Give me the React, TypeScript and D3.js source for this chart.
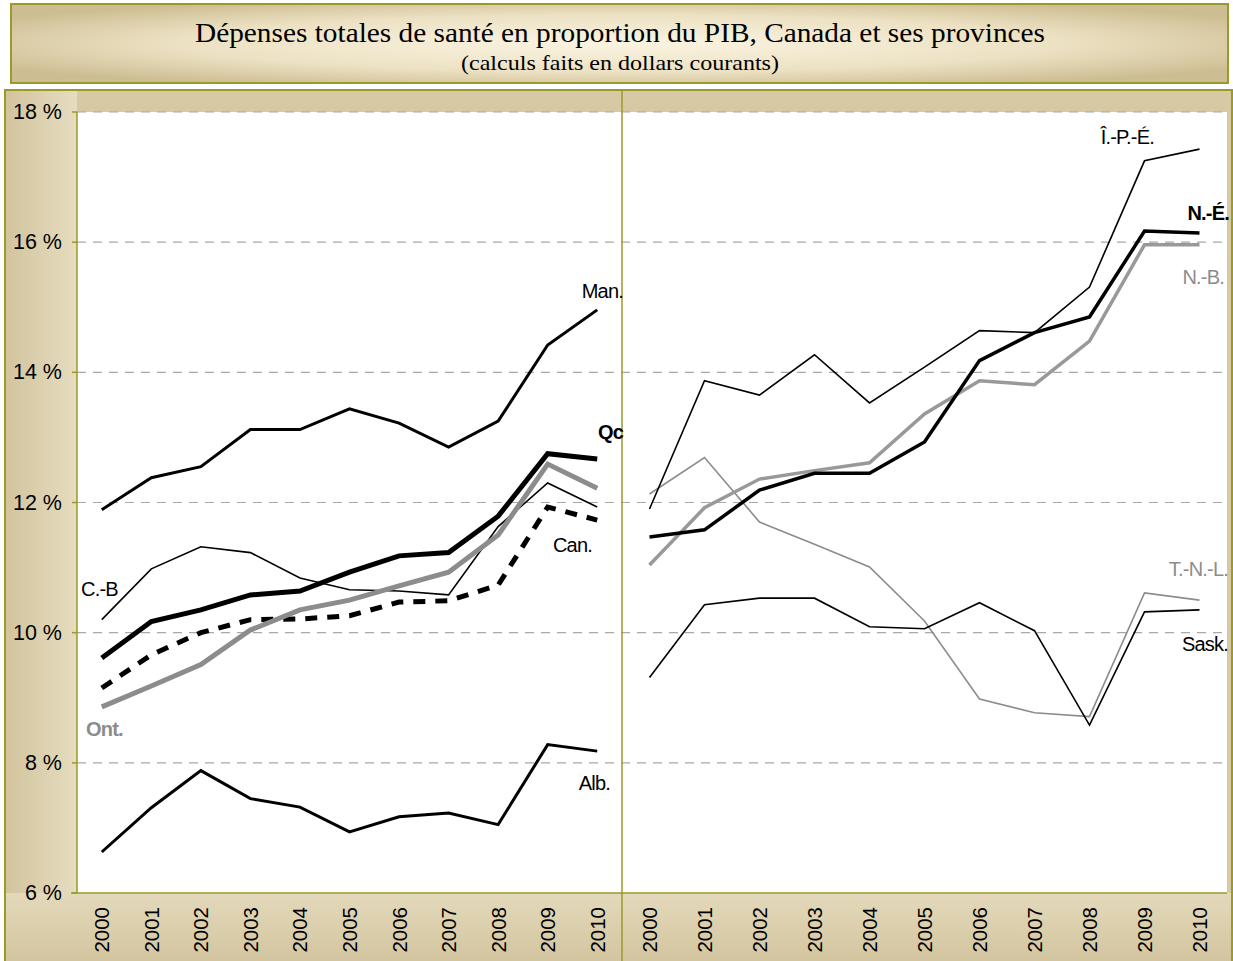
import * as d3 from "d3";

const years = ["2000", "2001", "2002", "2003", "2004", "2005", "2006", "2007", "2008", "2009", "2010"];
const yTicks = [6, 8, 10, 12, 14, 16, 18];

// Panneau gauche
const man = [11.89, 12.38, 12.55, 13.12, 13.12, 13.44, 13.22, 12.85, 13.25, 14.42, 14.96];
const qc = [9.61, 10.17, 10.35, 10.58, 10.64, 10.93, 11.18, 11.23, 11.79, 12.75, 12.67];
const ont = [8.86, 9.18, 9.51, 10.04, 10.35, 10.5, 10.72, 10.93, 11.5, 12.59, 12.22];
const can = [9.15, 9.66, 10.0, 10.2, 10.21, 10.26, 10.47, 10.49, 10.73, 11.93, 11.73];
const cb = [10.2, 10.98, 11.32, 11.23, 10.84, 10.66, 10.64, 10.58, 11.63, 12.3, 11.93];
const alb = [6.63, 7.31, 7.88, 7.45, 7.32, 6.94, 7.17, 7.23, 7.05, 8.28, 8.18];

// Panneau droit
const ipe = [11.9, 13.87, 13.65, 14.27, 13.53, 14.08, 14.64, 14.61, 15.31, 17.25, 17.43];
const ne = [11.47, 11.58, 12.19, 12.45, 12.45, 12.93, 14.18, 14.61, 14.85, 16.17, 16.14];
const nb = [11.04, 11.92, 12.36, 12.49, 12.61, 13.36, 13.87, 13.81, 14.48, 15.96, 15.96];
const tnl = [12.13, 12.69, 11.7, 11.36, 11.01, 10.18, 8.98, 8.77, 8.71, 10.61, 10.5];
const sask = [9.31, 10.43, 10.53, 10.53, 10.09, 10.06, 10.46, 10.03, 8.58, 10.32, 10.35];

const OLIVE = "#9a9a2a";
const SANS = "Arial, 'Liberation Sans', sans-serif";
const SERIF = "'Times New Roman', 'Liberation Serif', serif";

const plotTop = 112;
const plotBottom = 893;
const leftX0 = 77;
const midX = 622;
const rightX1 = 1227;

const y = d3.scaleLinear().domain([6, 18]).range([plotBottom, plotTop]);
const xLeft = d3.scaleBand().domain(years).range([leftX0, midX]);
const xRight = d3.scaleBand().domain(years).range([midX, rightX1]);

type S = { values: number[]; color: string; width: number; dash?: string };

const leftSeries: S[] = [
  { values: cb, color: "#000", width: 1.6 },
  { values: alb, color: "#000", width: 3 },
  { values: man, color: "#000", width: 3 },
  { values: can, color: "#000", width: 5, dash: "12,10" },
  { values: ont, color: "#8c8c8c", width: 5 },
  { values: qc, color: "#000", width: 5 },
];

const rightSeries: S[] = [
  { values: tnl, color: "#8c8c8c", width: 1.6 },
  { values: sask, color: "#000", width: 1.6 },
  { values: ipe, color: "#000", width: 1.6 },
  { values: nb, color: "#999999", width: 3.5 },
  { values: ne, color: "#000", width: 3.5 },
];

function path(x: d3.ScaleBand<string>, vals: number[]) {
  const line = d3
    .line<number>()
    .x((_, i) => (x(years[i]) as number) + x.bandwidth() / 2)
    .y((d) => y(d));
  return line(vals) || "";
}

const labels = [
  { t: "Man.", x: 623, y: 298, anchor: "end", color: "#000", bold: false },
  { t: "Qc", x: 623, y: 439, anchor: "end", color: "#000", bold: true },
  { t: "Can.", x: 592, y: 552, anchor: "end", color: "#000", bold: false },
  { t: "C.-B", x: 81, y: 596, anchor: "start", color: "#000", bold: false },
  { t: "Ont.", x: 86, y: 736, anchor: "start", color: "#8c8c8c", bold: true },
  { t: "Alb.", x: 610, y: 790, anchor: "end", color: "#000", bold: false },
  { t: "Î.-P.-É.", x: 1154, y: 144, anchor: "end", color: "#000", bold: false },
  { t: "N.-É.", x: 1229, y: 220, anchor: "end", color: "#000", bold: true },
  { t: "N.-B.", x: 1224, y: 284, anchor: "end", color: "#8c8c8c", bold: false },
  { t: "T.-N.-L.", x: 1228, y: 576, anchor: "end", color: "#8c8c8c", bold: false },
  { t: "Sask.", x: 1228, y: 651, anchor: "end", color: "#000", bold: false },
];

export default function App() {
  return (
    <svg width={1233} height={961} style={{ position: "absolute", left: 0, top: 0 }}>
      <defs>
        <radialGradient id="titleBg" cx="50%" cy="50%" r="60%">
          <stop offset="0%" stopColor="#fbf4e2" />
          <stop offset="60%" stopColor="#ece1c3" />
          <stop offset="100%" stopColor="#cdbd92" />
        </radialGradient>
        <linearGradient id="frameSide" x1="0" x2="1" y1="0" y2="0">
          <stop offset="0%" stopColor="#d2c49d" />
          <stop offset="100%" stopColor="#e6ddc0" />
        </linearGradient>
        <linearGradient id="frameBottom" x1="0" x2="0" y1="0" y2="1">
          <stop offset="0%" stopColor="#e3d9bb" />
          <stop offset="100%" stopColor="#d3c59f" />
        </linearGradient>
      </defs>

      {/* titre */}
      <rect x={11} y={4} width={1217} height={79} fill="url(#titleBg)" stroke={OLIVE} strokeWidth={2} />
      <text x={620} y={42} textAnchor="middle" fontFamily={SERIF} fontSize={28} textLength={850} lengthAdjust="spacingAndGlyphs">
        Dépenses totales de santé en proportion du PIB, Canada et ses provinces
      </text>
      <text x={620} y={70} textAnchor="middle" fontFamily={SERIF} fontSize={21} textLength={318} lengthAdjust="spacingAndGlyphs">
        (calculs faits en dollars courants)
      </text>

      {/* cadre */}
      <rect x={5} y={90} width={1227} height={875} fill="#d6c9a4" stroke={OLIVE} strokeWidth={2} />
      <rect x={6} y={91} width={71} height={870} fill="url(#frameSide)" />
      <rect x={6} y={893} width={1225} height={68} fill="url(#frameBottom)" />
      <rect x={leftX0} y={plotTop} width={rightX1 - leftX0} height={plotBottom - plotTop} fill="#fff" />

      {/* grille */}
      {yTicks.slice(1).map((t) => (
        <line key={t} x1={leftX0} x2={rightX1} y1={y(t)} y2={y(t)} stroke="#a8a8a8" strokeWidth={1.2} strokeDasharray="9,7" />
      ))}

      {/* axes */}
      <line x1={leftX0} x2={leftX0} y1={plotTop} y2={plotBottom} stroke={OLIVE} strokeWidth={1.5} />
      <line x1={leftX0 - 6} x2={rightX1} y1={plotBottom} y2={plotBottom} stroke={OLIVE} strokeWidth={1.5} />
      <line x1={midX} x2={midX} y1={91} y2={961} stroke={OLIVE} strokeWidth={1.5} />
      {yTicks.map((t) => (
        <g key={t}>
          <line x1={leftX0 - 5} x2={leftX0} y1={y(t)} y2={y(t)} stroke={OLIVE} strokeWidth={1.5} />
          <text x={62} y={y(t) + 7} textAnchor="end" fontFamily={SANS} fontSize={21.5}>
            {`${t} %`}
          </text>
        </g>
      ))}
      {[xLeft, xRight].map((x, k) =>
        years.map((yr) => {
          const cx = (x(yr) as number) + x.bandwidth() / 2;
          return (
            <text
              key={`${k}-${yr}`}
              transform={`translate(${cx + 7.5},${907}) rotate(-90)`}
              textAnchor="end"
              fontFamily={SANS}
              fontSize={20.5}
            >
              {yr}
            </text>
          );
        })
      )}

      {/* séries */}
      {leftSeries.map((s, i) => (
        <path key={`l${i}`} d={path(xLeft, s.values)} fill="none" stroke={s.color} strokeWidth={s.width} strokeDasharray={s.dash} />
      ))}
      {rightSeries.map((s, i) => (
        <path key={`r${i}`} d={path(xRight, s.values)} fill="none" stroke={s.color} strokeWidth={s.width} strokeDasharray={s.dash} />
      ))}

      {labels.map((l) => (
        <text
          key={l.t}
          x={l.x}
          y={l.y}
          textAnchor={l.anchor as any}
          fill={l.color}
          fontFamily={SANS}
          fontSize={20}
          fontWeight={l.bold ? "bold" : "normal"}
          letterSpacing={-0.8}
        >
          {l.t}
        </text>
      ))}
    </svg>
  );
}
